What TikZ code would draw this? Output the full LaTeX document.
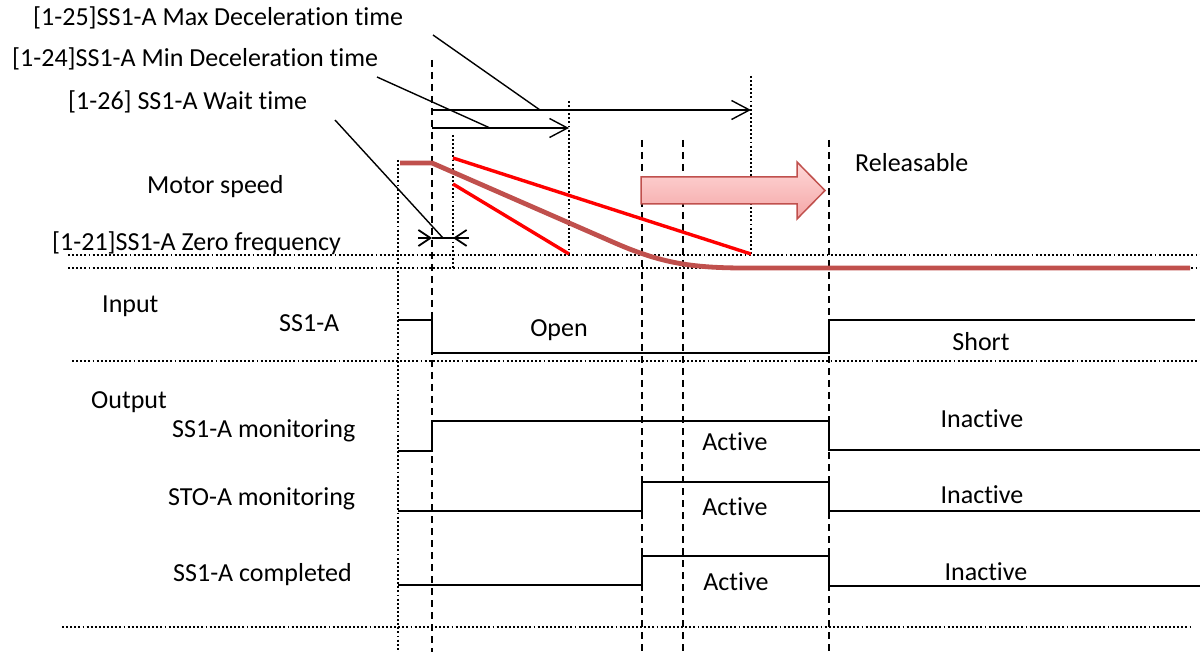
\documentclass[tikz,border=0pt]{standalone}
\usepackage{fontspec}
\setmainfont[Ligatures={NoCommon,NoContextual}]{Carlito}
\usetikzlibrary{arrows.meta}

\definecolor{speedred}{HTML}{C0504D}
\definecolor{pinklight}{HTML}{FFD8D8}
\definecolor{pinkdark}{HTML}{F4A6A6}

\begin{document}
\begin{tikzpicture}
    [
    x=1pt,y=-1pt,
    txt/.style={font=\fontsize{26}{30}\selectfont,inner sep=0pt},
    lbl/.style={txt,anchor=base west},
    val/.style={txt,anchor=base},
    dotline/.style={line width=1.9pt,dash pattern=on 1.9pt off 2.2pt},
    dashline/.style={line width=1.8pt,dash pattern=on 7pt off 5pt},
    signal/.style={line width=1.6pt},
    leader/.style={line width=1.4pt},
    span/.style={line width=1.4pt,-{Straight Barb[length=18pt,width=19pt]}},
    zspan/.style={line width=1.8pt,-{Straight Barb[length=12pt,width=16pt]}},
    speed/.style={line width=4.8pt,speedred},
    limit/.style={line width=3.4pt,red}
    ]
    \useasboundingbox (0,0) rectangle (1200,652);

    % labels
    \node[lbl] (maxdec) at (33,26) {[1-25]SS1-A Max Deceleration time};
    \node[lbl] (mindec) at (12,67) {[1-24]SS1-A Min Deceleration time};
    \node[lbl] (wait) at (68,110) {[1-26] SS1-A Wait time};
    \node[lbl] (motor) at (147,194) {Motor speed};
    \node[lbl] (zero) at (52,251) {[1-21]SS1-A Zero frequency};
    \node[lbl] (input) at (102,313) {Input};
    \node[lbl] (ss1) at (279,332) {SS1-A};
    \node[lbl] (output) at (91,408) {Output};
    \node[lbl] (ss1mon) at (172,437) {SS1-A monitoring};
    \node[lbl] (stomon) at (168,505) {STO-A monitoring};
    \node[lbl] (ss1cmp) at (173,581) {SS1-A completed};
    \node[lbl] (rel) at (855,172) {Releasable};
    \node[val] (open) at (559,337) {Open};
    \node[val] (short) at (981,351) {Short};
    \node[val] (act1) at (735,450) {Active};
    \node[val] (act2) at (735,515) {Active};
    \node[val] (act3) at (736,590) {Active};
    \node[val] (inact1) at (982,428) {Inactive};
    \node[val] (inact2) at (982,503) {Inactive};
    \node[val] (inact3) at (986,580) {Inactive};

    % time guides
    \draw[dotline] (398,160) -- (398,652);
    \draw[dashline] (432,60) -- (432,652);
    \draw[dotline] (453,135) -- (453,268);
    \draw[dotline] (569,101) -- (569,255);
    \draw[dashline] (642,140) -- (642,652);
    \draw[dashline] (683,140) -- (683,652);
    \draw[dotline] (751,76) -- (751,255);
    \draw[dashline] (829,140) -- (829,652);

    % row separators
    \draw[dotline] (68,255) -- (1200,255);
    \draw[dotline] (68,268) -- (1200,268);
    \draw[dotline] (72,361) -- (1200,361);
    \draw[dotline] (62,627) -- (1190,627);

    % time spans
    \coordinate (maxA) at (432,110);
    \coordinate (maxB) at (751,110);
    \coordinate (minA) at (432,128);
    \coordinate (minB) at (569,128);
    \coordinate (zl) at (418,238);
    \coordinate (za) at (432,238);
    \coordinate (zb) at (453,238);
    \coordinate (zr) at (469,238);
    \draw[span] (maxA) -- (maxB);
    \draw[span] (minA) -- (minB);
    \draw[zspan] (zl) -- (za);
    \draw[leader] (za) -- (zb);
    \draw[zspan] (zr) -- (zb);

    % leaders
    \coordinate (maxdec-l) at (433,35);
    \coordinate (maxdec-r) at (540,110);
    \coordinate (mindec-l) at (377,77);
    \coordinate (mindec-r) at (490,128);
    \coordinate (wait-l) at (335,120);
    \coordinate (wait-r) at (443,238);
    \draw[leader] (maxdec-l) -- (maxdec-r);
    \draw[leader] (mindec-l) -- (mindec-r);
    \draw[leader] (wait-l) -- (wait-r);

    % speed
    \draw[limit] (453,158) -- (751,254);
    \draw[limit] (453,184) -- (569,254);
    \draw[speed] (400,163) -- (432,163) -- (615,243)
        .. controls (660,262.5) and (690,268) .. (745,268) -- (1190,268);

    % releasable
    \draw[draw=speedred,line width=1.5pt,top color=pinklight,bottom color=pinkdark]
        (641,177) -- (797,177) -- (797,162) -- (825,190.5) -- (797,219)
        -- (797,204) -- (641,204) -- cycle;

    % signals
    \draw[signal] (398,320) -- (432,320) -- (432,353) -- (829,353) -- (829,320) -- (1195,320);
    \draw[signal] (398,451) -- (432,451) -- (432,421) -- (829,421) -- (829,450) -- (1200,450);
    \draw[signal] (398,511) -- (642,511) -- (642,482) -- (829,482) -- (829,511) -- (1200,511);
    \draw[signal] (398,585) -- (642,585) -- (642,556) -- (829,556) -- (829,586) -- (1200,586);
\end{tikzpicture}
\end{document}
